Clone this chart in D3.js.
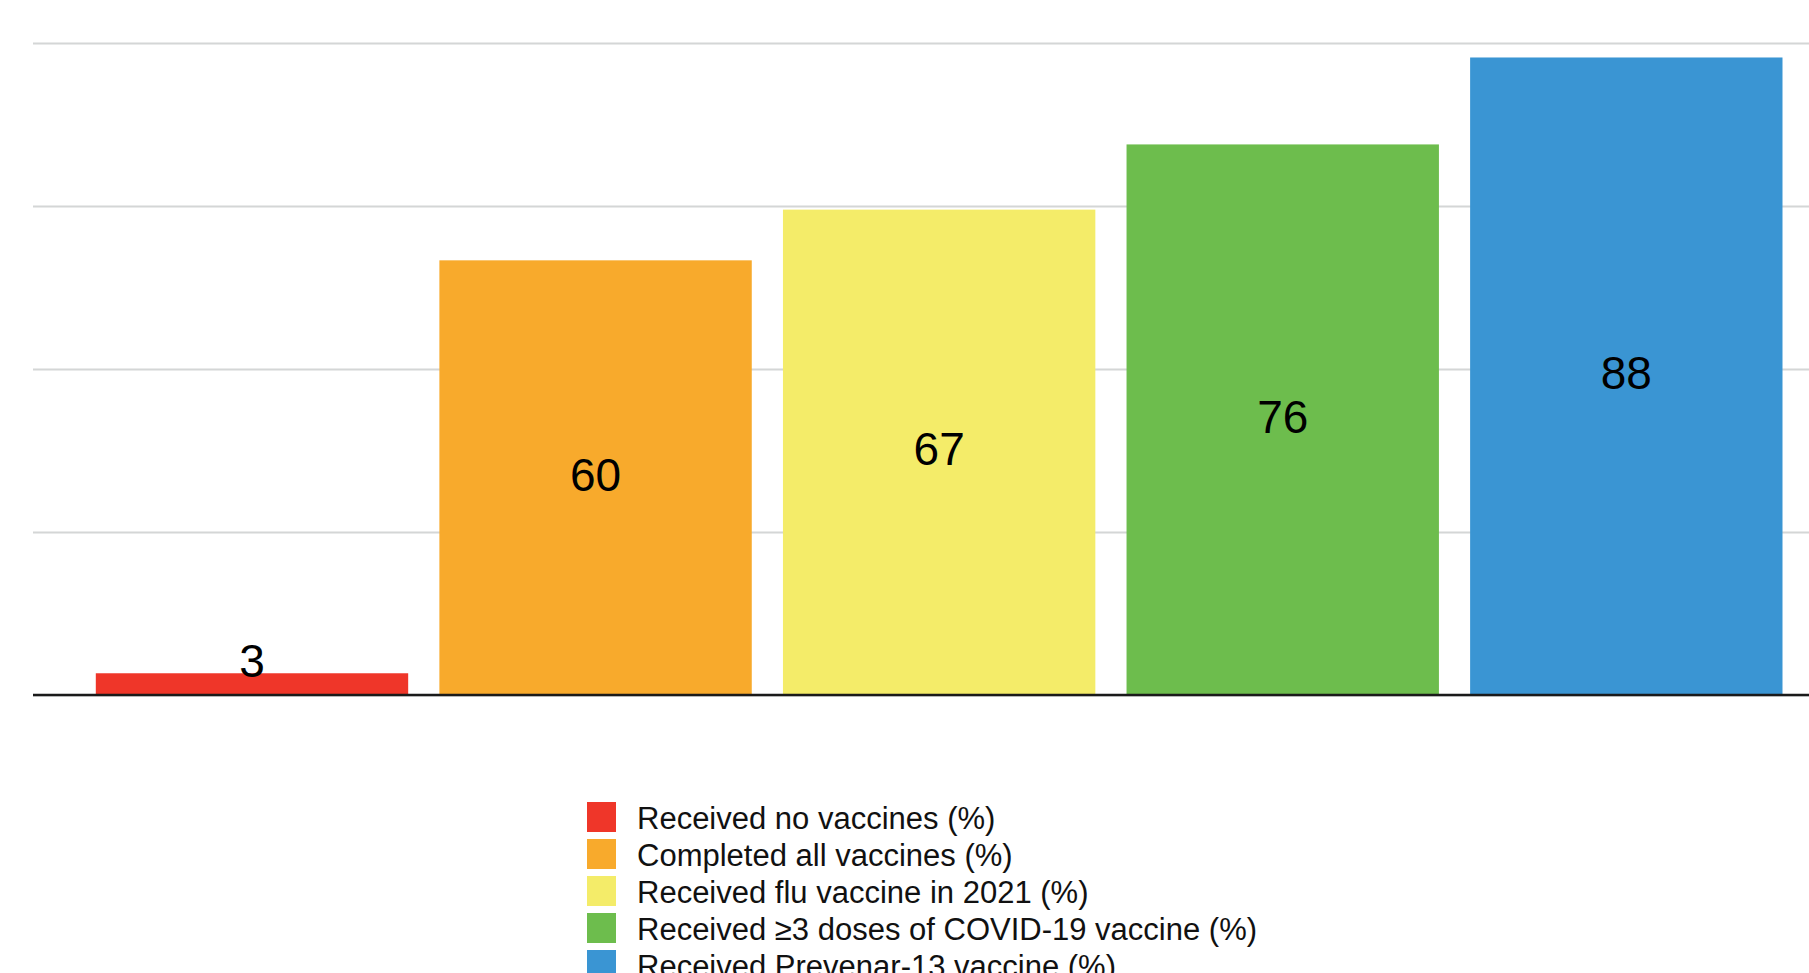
<!DOCTYPE html>
<html>
<head>
<meta charset="utf-8">
<script src="https://cdn.jsdelivr.net/npm/d3@7"></script>
<style>
    body { margin: 0; background: #fff; }
    svg { display: block; font-family: "Liberation Sans", Helvetica, Arial, sans-serif; }
</style>
</head>
<body>
<div id="bar_chart"></div>
<script>
// chart data
var categories = [
    "Received no vaccines (%)",
    "Completed all vaccines (%)",
    "Received flu vaccine in 2021 (%)",
    "Received \u22653 doses of COVID-19 vaccine (%)",
    "Received Prevenar-13 vaccine (%)"
];
var values = [3, 60, 67, 76, 88];
var colors = ["#ef3629", "#f8aa2c", "#f4ec69", "#6dbd4d", "#3a95d3"];
var gridTicks = [0, 22.5, 45, 67.5, 90];

// set the dimensions of the page
var width = 1809,
    height = 973;
var plotLeft = 33, axisY = 695, topY = 43;

var svg = d3.select("#bar_chart")
    .append("svg")
    .attr("width", width)
    .attr("height", height);

// scales
var x = d3.scaleBand()
    .domain(categories)
    .range([80.2, 1798.1])
    .paddingInner(0.0908)
    .paddingOuter(0.0454);

var y = d3.scaleLinear()
    .domain([0, 90])
    .range([axisY, topY]);

// horizontal grid lines
svg.append("g")
    .attr("class", "grid")
    .attr("transform", "translate(" + plotLeft + ",0)")
    .call(d3.axisLeft(y).tickValues(gridTicks).tickSize(-(width - plotLeft)).tickFormat(""))
    .call(function (g) { g.select(".domain").remove(); })
    .call(function (g) {
        g.selectAll(".tick line")
            .attr("stroke", "#d4d6d6")
            .attr("stroke-width", 2);
    });

// bars
svg.selectAll(".bar")
    .data(values)
    .enter()
    .append("rect")
    .attr("class", "bar")
    .attr("x", function (d, i) { return x(categories[i]); })
    .attr("y", function (d) { return y(d); })
    .attr("width", x.bandwidth())
    .attr("height", function (d) { return axisY - y(d); })
    .attr("fill", function (d, i) { return colors[i]; });

// base line
svg.append("line")
    .attr("x1", plotLeft)
    .attr("x2", width)
    .attr("y1", axisY)
    .attr("y2", axisY)
    .attr("stroke", "#1a1a1a")
    .attr("stroke-width", 2.5);

// value labels, in the middle of the bar
svg.selectAll(".value")
    .data(values)
    .enter()
    .append("text")
    .attr("class", "value")
    .attr("text-anchor", "middle")
    .attr("font-size", 46)
    .attr("fill", "#000")
    .attr("x", function (d, i) { return x(categories[i]) + x.bandwidth() / 2; })
    .attr("y", function (d) {
        var mid = (y(d) + axisY) / 2;
        return Math.min(mid - 3 + 16, axisY - 18);
    })
    .text(function (d) { return d; });

// legend
var legend = svg.append("g")
    .attr("class", "legend")
    .attr("transform", "translate(587,802)");

var rows = legend.selectAll(".row")
    .data(categories)
    .enter()
    .append("g")
    .attr("class", "row")
    .attr("transform", function (d, i) { return "translate(0," + (i * 37) + ")"; });

rows.append("rect")
    .attr("width", 29)
    .attr("height", 30)
    .attr("fill", function (d, i) { return colors[i]; });

rows.append("text")
    .attr("x", 50)
    .attr("y", 27)
    .attr("font-size", 31)
    .attr("fill", "#111")
    .text(function (d) { return d; });
</script>
</body>
</html>
